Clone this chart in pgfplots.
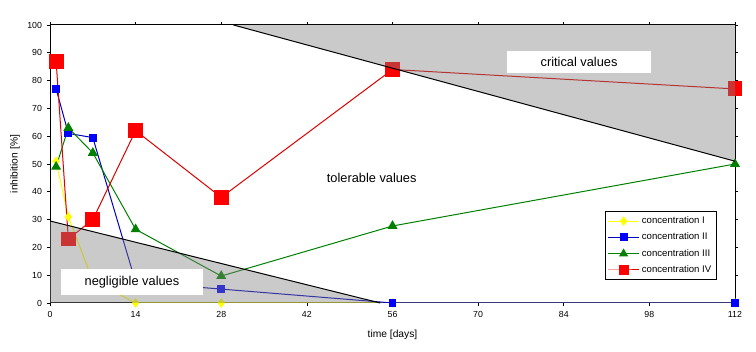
\documentclass[border=0pt]{standalone}
\usepackage{pgfplots}
\pgfplotsset{compat=1.18}
\usepackage{fontspec}
\setmainfont{Liberation Sans}
\definecolor{cI}{RGB}{255,255,0}
\definecolor{cII}{RGB}{0,0,255}
\definecolor{cIIline}{RGB}{0,0,190}
\definecolor{cIII}{RGB}{0,128,0}
\definecolor{cIV}{RGB}{255,0,0}
\definecolor{cIVline}{RGB}{220,0,0}
\definecolor{hatch}{RGB}{128,128,128}
\begin{document}
\begin{tikzpicture}
\begin{axis}[
  name=ax, set layers,
  at={(0,0)}, anchor=south west,
  scale only axis, width=513.75pt, height=208.5pt,
  xmin=0, xmax=112, ymin=0, ymax=100,
  xtick={0,14,...,112}, ytick={0,10,...,100},
  tick align=outside, major tick length=2.5pt,
  tick style={black, line width=0.5pt},
  axis line style={black, line width=0.75pt},
  ticklabel style={font=\fontsize{6.6}{8}\selectfont},
  /pgf/number format/assume math mode=true,
  xlabel={time [days]}, ylabel={inhibition [\%]},
  label style={font=\fontsize{7.7}{9}\selectfont},
  xlabel style={at={(axis description cs:0.5,-0.1151)}, anchor=center},
  ylabel style={at={(axis description cs:-0.0511,0.5)}, anchor=center},
  legend style={at={(axis description cs:0.9737,0.331)}, anchor=north east,
    draw=black, line width=0.5pt, fill=white,
    font=\fontsize{7.2}{9}\selectfont, cells={anchor=west}, row sep=1.5pt,
    inner sep=2pt},
  legend image code/.code={\draw[mark repeat=2,mark phase=2] plot coordinates {(0cm,0cm)(0.4cm,0cm)(0.8cm,0cm)};},
]
\addplot[color=cI, line width=0.75pt, mark=diamond*, mark size=3pt, mark options={fill=cI, draw=cI, solid}]
  coordinates {(1,51)(3,31)(7,8)(14,0)(28,0)(56,0)(112,0)};
\addlegendentry{concentration I}
\addplot[color=cIIline, line width=0.75pt, mark=square*, mark size=2.6pt, mark options={fill=cII, draw=cII, solid}]
  coordinates {(1,77)(3,61)(7,59.5)(14,7.5)(28,5)(56,0)(112,0)};
\addlegendentry{concentration II}
\addplot[color=cIII, line width=0.75pt, mark=triangle*, mark size=3.6pt, mark options={fill=cIII, draw=cIII, solid},
  legend image post style={mark size=3.2pt}]
  coordinates {(1,49)(3,63)(7,54)(14,26.5)(28,9.7)(56,27.7)(112,50)};
\addlegendentry{concentration III}
\addplot[color=cIVline, line width=0.75pt, mark=square*, mark size=5.2pt, mark options={fill=cIV, draw=cIV, solid},
  legend image post style={mark size=3.4pt}]
  coordinates {(1,87)(3,23)(7,30)(14,62)(28,38)(56,84)(112,77)};
\addlegendentry{concentration IV}
% shaded regions on top of the lines and marks
\addplot[forget plot, on layer=axis foreground, draw=none, fill=hatch, fill opacity=0.42] coordinates {(0,0)(0,29.5)(54,0)} -- cycle;
\addplot[forget plot, on layer=axis foreground, draw=none, fill=hatch, fill opacity=0.42] coordinates {(30,100)(112,100)(112,51)} -- cycle;
\addplot[forget plot, on layer=axis foreground, black, line width=0.75pt] coordinates {(0,29.5)(54,0)};
\addplot[forget plot, on layer=axis foreground, black, line width=0.75pt] coordinates {(30,100)(112,51)};
\begin{pgfonlayer}{axis foreground}
\node[fill=white, minimum width=107pt, minimum height=19pt, inner sep=0pt, font=\fontsize{9.6}{11}\selectfont]
  at (axis cs:13.4,7.5) {negligible values};
\node[fill=white, minimum width=108pt, minimum height=16.5pt, inner sep=0pt, font=\fontsize{9.6}{11}\selectfont]
  at (axis cs:86.5,86.7) {critical values};
\end{pgfonlayer}
\node[font=\fontsize{9.6}{11}\selectfont] at (axis cs:52.6,45) {tolerable values};
\end{axis}
\pgfresetboundingbox
\path[use as bounding box] (-37.5pt,-36.75pt) rectangle (529.5pt,227.25pt);
\end{tikzpicture}
\end{document}
